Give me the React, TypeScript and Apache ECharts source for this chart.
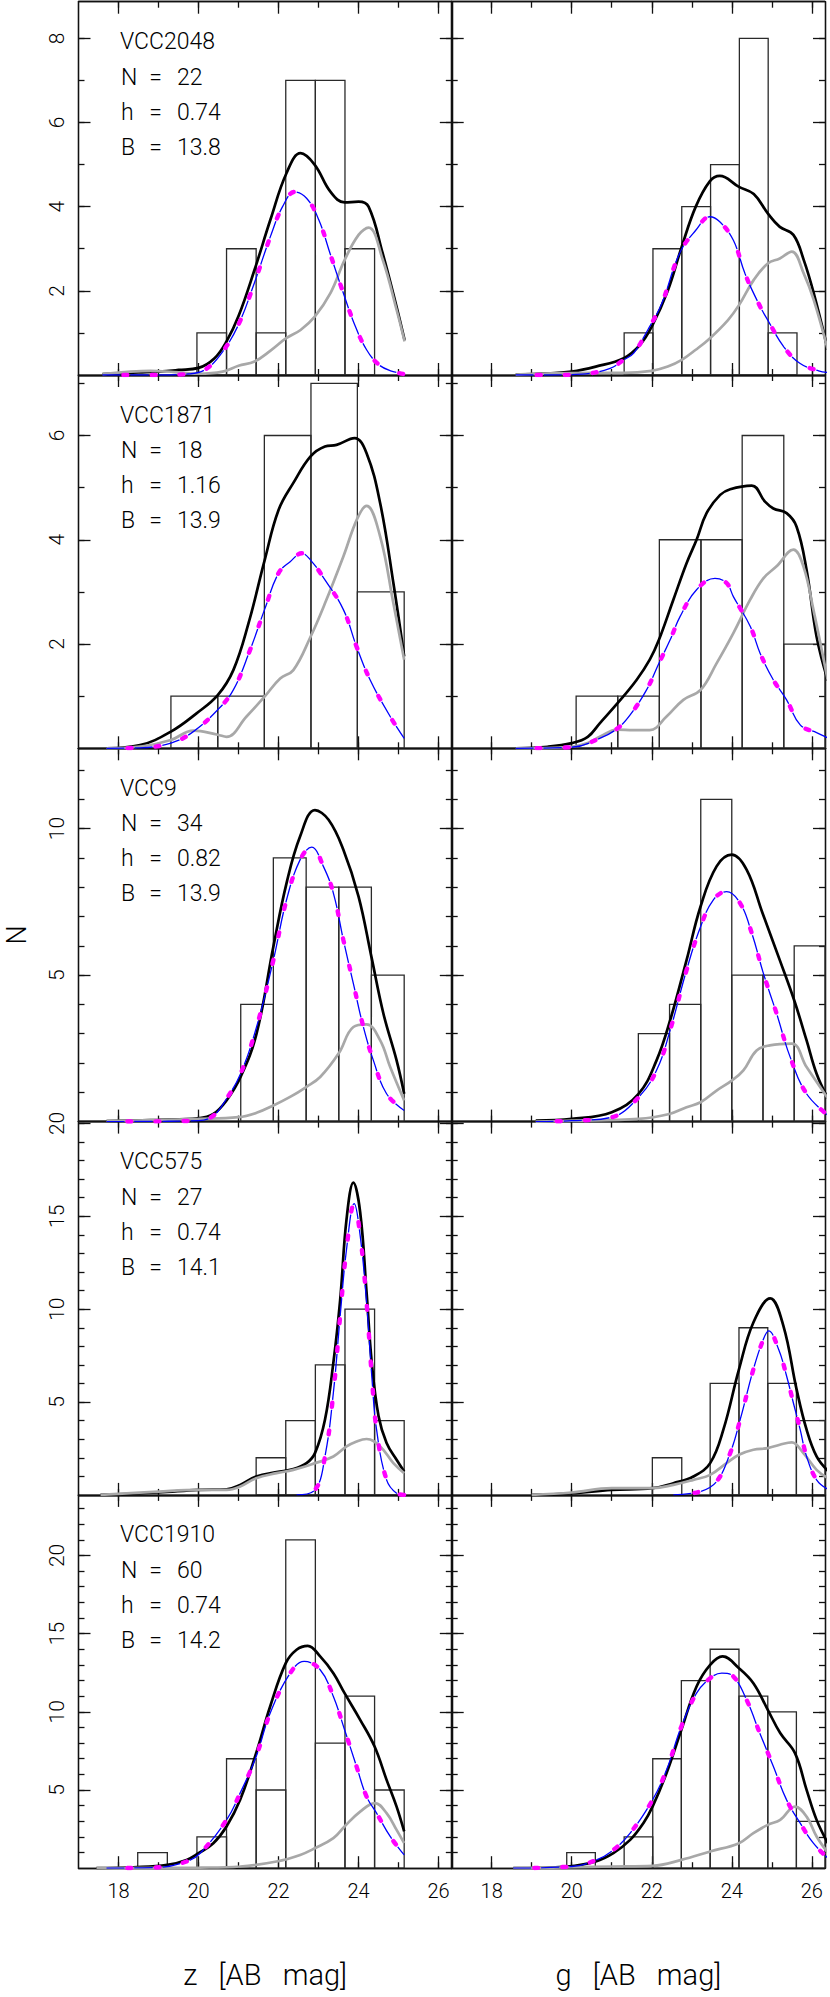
import React, { useEffect, useRef } from 'react';
import * as echarts from 'echarts';

// ---------- text / axes ----------
const galaxyNames = ['VCC2048', 'VCC1871', 'VCC9', 'VCC575', 'VCC1910'];
const galaxyN = ['22', '18', '34', '27', '60'];
const galaxyH = ['0.74', '1.16', '0.82', '0.74', '0.74'];
const galaxyB = ['13.8', '13.9', '13.9', '14.1', '14.2'];
const xTitles = ['z\u00a0\u00a0\u00a0[AB\u00a0\u00a0\u00a0mag]', 'g\u00a0\u00a0\u00a0[AB\u00a0\u00a0\u00a0mag]'];
const yTitle = 'N';
const xMajorTicks = [18, 20, 22, 24, 26];
const xMinorTicks = [18, 19, 20, 21, 22, 23, 24, 25, 26];
const yMaxByRow = [8.87, 7.16, 12.74, 20.1, 23.87];
const yMajorByRow = [[2, 4, 6, 8], [2, 4, 6], [5, 10], [5, 10, 15, 20], [5, 10, 15, 20]];
const yMinorByRow = [
  [1, 2, 3, 4, 5, 6, 7, 8],
  [1, 2, 3, 4, 5, 6, 7],
  [1, 2, 3, 4, 5, 6, 7, 8, 9, 10, 11, 12],
  [1, 2, 3, 4, 5, 6, 7, 8, 9, 10, 11, 12, 13, 14, 15, 16, 17, 18, 19, 20],
  [1, 2, 3, 4, 5, 6, 7, 8, 9, 10, 11, 12, 13, 14, 15, 16, 17, 18, 19, 20, 21, 22, 23],
];

// ---------- histograms (bin edges, counts) ----------
const z2048Edges = [19.96, 20.7, 21.44, 22.18, 22.92, 23.66, 24.4];
const z2048Counts = [1, 3, 1, 7, 7, 3];
const g2048Edges = [21.31, 22.03, 22.75, 23.47, 24.19, 24.91, 25.63];
const g2048Counts = [1, 3, 4, 5, 8, 1];
const z1871Edges = [19.31, 20.48, 21.645, 22.81, 23.97, 25.14];
const z1871Counts = [1, 1, 6, 7, 3];
const g1871Edges = [20.11, 21.15, 22.19, 23.23, 24.26, 25.3, 26.33];
const g1871Counts = [1, 1, 4, 4, 6, 2];
const z9Edges = [21.055, 21.87, 22.69, 23.505, 24.32, 25.14];
const z9Counts = [4, 9, 8, 8, 5];
const g9Edges = [21.665, 22.445, 23.225, 24.0, 24.78, 25.56, 26.33];
const g9Counts = [3, 4, 11, 5, 5, 6];
const z575Edges = [21.44, 22.18, 22.92, 23.66, 24.4, 25.14];
const z575Counts = [2, 4, 7, 10, 4];
const g575Edges = [22.015, 22.75, 23.46, 24.18, 24.9, 25.615, 26.33];
const g575Counts = [2, 0, 6, 9, 6, 4];
const z1910Edges = [18.48, 19.22, 19.96, 20.7, 21.44, 22.18, 22.92, 23.66, 24.4, 25.14];
const z1910Counts = [1, 0, 2, 7, 5, 21, 8, 11, 5];
const g1910Edges = [19.875, 20.59, 21.31, 22.025, 22.74, 23.46, 24.18, 24.9, 25.615, 26.33];
const g1910Counts = [1, 0, 2, 7, 12, 14, 11, 10, 3];

// ---------- curves: [mag, N] ----------
const z2048Total = [[17.6,0.02],[18.5,0.06],[19.0,0.08],[19.5,0.12],[20.0,0.17],[20.4,0.4],[20.7,0.8],[21.0,1.4],[21.4,2.5],[21.8,3.7],[22.2,4.8],[22.55,5.27],[22.9,5.0],[23.3,4.35],[23.65,4.1],[24.0,4.12],[24.25,4.0],[24.6,2.9],[24.95,1.62],[25.15,0.83]];
const z2048Gray = [[17.6,0.02],[18.3,0.08],[18.8,0.1],[19.4,0.07],[20.0,0.03],[20.6,0.08],[21.0,0.22],[21.4,0.32],[21.8,0.58],[22.2,0.88],[22.55,1.07],[22.9,1.38],[23.3,1.95],[23.65,2.73],[24.0,3.33],[24.25,3.5],[24.6,2.75],[24.95,1.55],[25.15,0.8]];
const z2048Fit = [[17.6,0],[19.0,0],[19.8,0.03],[20.2,0.15],[20.6,0.55],[21.0,1.2],[21.4,2.2],[21.8,3.3],[22.1,4.0],[22.4,4.35],[22.7,4.2],[23.0,3.7],[23.3,2.85],[23.6,2.0],[23.9,1.2],[24.2,0.6],[24.5,0.25],[24.8,0.1],[25.15,0.02]];

const g2048Total = [[18.6,0.01],[19.4,0.04],[20.0,0.08],[20.6,0.2],[21.3,0.4],[21.7,0.71],[22.0,1.15],[22.4,2.0],[22.75,3.05],[23.1,4.0],[23.45,4.6],[23.7,4.73],[24.18,4.47],[24.55,4.3],[24.9,3.84],[25.2,3.52],[25.54,3.33],[25.8,2.73],[26.05,1.94],[26.4,0.6]];
const g2048Gray = [[18.6,0.01],[19.5,0.04],[20.5,0.05],[21.3,0.05],[22.0,0.1],[22.4,0.2],[22.75,0.36],[23.1,0.6],[23.45,0.87],[23.9,1.3],[24.18,1.66],[24.55,2.26],[24.9,2.65],[25.2,2.77],[25.5,2.93],[25.8,2.41],[26.05,1.78],[26.4,0.6]];
const g2048Fit = [[18.6,0],[19.5,0],[20.25,0.02],[20.96,0.16],[21.3,0.36],[21.55,0.52],[21.9,1.07],[22.25,1.7],[22.7,2.9],[23.1,3.44],[23.45,3.76],[23.7,3.64],[24.04,3.2],[24.33,2.41],[24.67,1.7],[24.92,1.27],[25.3,0.67],[25.7,0.28],[26.17,0.1],[26.4,0.06]];

const z1871Total = [[17.7,0],[18.54,0.06],[19.31,0.32],[19.95,0.67],[20.48,1.02],[20.87,1.5],[21.25,2.4],[21.65,3.6],[22.0,4.57],[22.37,5.09],[22.8,5.6],[23.16,5.79],[23.45,5.82],[23.9,5.95],[24.2,5.66],[24.54,4.7],[24.87,3.17],[25.14,1.76]];
const z1871Gray = [[17.7,0],[18.6,0.04],[19.31,0.16],[19.87,0.34],[20.48,0.26],[20.7,0.22],[21.2,0.61],[21.65,0.99],[22.04,1.34],[22.37,1.5],[22.8,2.14],[23.16,2.78],[23.62,3.68],[23.97,4.41],[24.2,4.65],[24.54,4.06],[24.87,2.78],[25.14,1.7]];
const z1871Fit = [[17.7,0],[18.54,0.01],[19.31,0.1],[19.87,0.32],[20.48,0.74],[20.87,1.12],[21.29,1.89],[21.65,2.66],[22.0,3.36],[22.29,3.58],[22.58,3.74],[22.8,3.61],[23.16,3.23],[23.62,2.66],[23.95,1.95],[24.29,1.31],[24.79,0.61],[25.14,0.19]];

const g1871Total = [[18.6,0],[19.4,0.03],[20.0,0.1],[20.4,0.22],[20.7,0.48],[21.14,0.86],[21.62,1.31],[21.95,1.7],[22.18,2.08],[22.54,2.85],[22.87,3.55],[23.12,4.0],[23.37,4.51],[23.71,4.86],[23.96,4.97],[24.5,5.04],[24.83,4.73],[25.04,4.6],[25.37,4.51],[25.62,4.25],[25.87,3.42],[26.12,2.14],[26.4,1.3]];
const g1871Gray = [[18.6,0],[20.0,0.03],[20.4,0.1],[20.7,0.22],[21.14,0.36],[21.54,0.35],[21.95,0.35],[22.37,0.61],[22.79,0.93],[23.22,1.12],[23.62,1.63],[24.04,2.21],[24.46,2.85],[24.79,3.26],[25.12,3.49],[25.54,3.81],[25.79,3.49],[26.04,2.66],[26.4,1.3]];
const g1871Fit = [[18.6,0],[20.0,0.02],[20.7,0.19],[21.14,0.38],[21.46,0.64],[21.87,1.12],[22.18,1.63],[22.46,2.08],[22.71,2.53],[23.12,3.04],[23.58,3.26],[23.87,3.17],[24.04,2.91],[24.46,2.34],[24.71,1.82],[25.04,1.31],[25.37,0.93],[25.71,0.45],[26.12,0.3],[26.4,0.2]];

const z9Total = [[17.7,0.02],[19.0,0.06],[20.0,0.11],[20.37,0.26],[20.7,0.72],[21.05,1.52],[21.45,3.0],[21.87,5.97],[22.2,8.14],[22.54,9.74],[22.91,10.63],[23.25,10.3],[23.62,9.28],[24.0,7.68],[24.32,5.63],[24.62,3.69],[24.95,2.09],[25.14,0.95]];
const z9Gray = [[17.7,0.02],[20.0,0.09],[21.0,0.15],[21.45,0.3],[21.87,0.55],[22.3,0.85],[22.69,1.18],[23.04,1.52],[23.5,2.32],[23.87,3.23],[24.2,3.32],[24.54,2.77],[24.79,1.86],[25.14,0.72]];
const z9Fit = [[17.7,0],[20.0,0.03],[20.37,0.2],[20.7,0.78],[21.05,1.63],[21.45,3.23],[21.87,5.51],[22.2,7.57],[22.54,8.94],[22.83,9.37],[23.12,8.71],[23.37,7.8],[23.62,6.2],[23.87,4.71],[24.12,3.23],[24.37,2.09],[24.7,0.95],[25.14,0.38]];

const g9Total = [[19.1,0.03],[20.0,0.09],[21.0,0.32],[21.67,0.95],[22.12,2.09],[22.46,3.46],[22.87,5.51],[23.22,7.34],[23.62,8.71],[24.0,9.11],[24.37,8.6],[24.77,7.11],[25.2,5.51],[25.56,4.14],[25.87,2.77],[26.12,1.63],[26.4,0.8]];
const g9Gray = [[19.1,0],[20.0,0.03],[21.67,0.09],[22.44,0.26],[22.87,0.49],[23.22,0.66],[23.62,1.06],[24.0,1.4],[24.29,1.75],[24.62,2.43],[24.95,2.6],[25.5,2.66],[25.87,1.86],[26.4,0.8]];
const g9Fit = [[19.1,0],[20.0,0.03],[21.0,0.15],[21.67,0.83],[22.12,1.75],[22.46,3.12],[22.87,5.17],[23.22,6.65],[23.54,7.57],[23.87,7.85],[24.21,7.45],[24.5,6.43],[24.79,5.06],[25.12,3.69],[25.46,2.2],[25.87,0.95],[26.4,0.22]];

const z575Total = [[17.55,0],[19.0,0.13],[20.0,0.27],[20.7,0.3],[21.04,0.54],[21.44,0.99],[21.95,1.23],[22.37,1.39],[22.7,1.71],[22.91,2.25],[23.16,4.05],[23.37,7.12],[23.54,10.5],[23.7,14.86],[23.87,16.81],[24.04,15.22],[24.2,10.9],[24.33,7.12],[24.5,4.23],[24.7,2.79],[24.95,1.89],[25.14,1.26]];
const z575Gray = [[17.55,0],[19.0,0.18],[20.0,0.27],[20.7,0.27],[21.04,0.45],[21.44,0.9],[21.95,1.17],[22.37,1.35],[22.91,1.71],[23.37,2.07],[23.7,2.61],[23.95,2.88],[24.2,3.01],[24.54,2.61],[24.87,1.71],[25.14,1.17]];
const z575Fit = [[22.45,0],[22.91,0.27],[23.16,2.07],[23.37,5.5],[23.54,9.64],[23.7,13.24],[23.89,15.68],[24.04,13.96],[24.2,10.36],[24.33,6.4],[24.45,3.51],[24.7,0.81],[24.95,0.09],[25.14,0]];

const g575Total = [[19.0,0],[20.0,0.09],[21.0,0.27],[22.02,0.36],[22.54,0.63],[23.04,0.99],[23.46,1.71],[23.79,3.51],[24.18,6.76],[24.54,9.28],[24.96,10.58],[25.29,9.1],[25.62,5.68],[25.87,3.51],[26.12,2.07],[26.4,1.3]];
const g575Gray = [[19.0,0],[20.0,0.13],[21.0,0.36],[22.02,0.36],[22.54,0.54],[23.04,0.81],[23.46,1.08],[23.87,1.71],[24.18,2.16],[24.54,2.43],[24.9,2.52],[25.2,2.7],[25.5,2.83],[25.79,2.25],[26.12,1.35],[26.4,0.9]];
const g575Fit = [[22.54,0],[23.21,0.18],[23.62,0.72],[23.96,2.25],[24.21,4.05],[24.54,6.76],[24.79,8.38],[24.92,8.83],[25.17,7.84],[25.37,6.4],[25.54,4.95],[25.71,3.51],[25.87,2.07],[26.12,0.81],[26.4,0.3]];

const z1910Total = [[17.45,0],[18.37,0.06],[19.22,0.21],[19.7,0.53],[20.0,0.96],[20.37,1.6],[20.7,2.67],[21.04,4.37],[21.44,7.36],[21.79,10.34],[22.18,13.11],[22.45,13.97],[22.73,14.22],[23.04,13.54],[23.37,12.47],[23.65,11.19],[24.04,9.49],[24.4,7.78],[24.7,5.65],[24.95,3.94],[25.14,2.35]];
const z1910Gray = [[17.45,0],[20.04,0.04],[21.04,0.11],[21.95,0.43],[22.54,0.85],[22.91,1.28],[23.37,1.92],[23.65,2.67],[24.04,3.62],[24.41,4.16],[24.7,3.52],[24.95,2.45],[25.14,1.6]];
const z1910Fit = [[17.7,0],[19.04,0.06],[19.7,0.43],[20.04,0.96],[20.7,3.09],[21.04,4.8],[21.44,7.14],[21.79,9.91],[22.29,12.47],[22.64,13.22],[23.04,12.69],[23.37,10.98],[23.65,8.85],[23.95,6.5],[24.2,4.58],[24.45,3.52],[24.79,2.03],[25.14,0.85]];

const g1910Total = [[18.54,0],[19.88,0.11],[20.6,0.43],[21.04,0.96],[21.46,1.81],[21.79,2.88],[22.02,3.94],[22.37,6.08],[22.74,8.85],[23.12,11.62],[23.46,13.0],[23.77,13.54],[24.18,12.79],[24.54,11.83],[24.9,10.13],[25.21,8.64],[25.58,7.36],[25.87,5.01],[26.12,3.09],[26.4,1.6]];
const g1910Gray = [[18.54,0],[20.0,0.06],[21.0,0.11],[22.02,0.15],[22.74,0.53],[23.46,1.07],[24.18,1.6],[24.54,2.24],[24.9,2.77],[25.21,3.09],[25.58,3.94],[25.87,3.3],[26.12,2.03],[26.4,1.0]];
const g1910Fit = [[18.54,0],[20.0,0.11],[20.62,0.53],[21.04,1.17],[21.46,2.24],[22.02,4.37],[22.37,6.29],[22.74,9.06],[23.12,11.19],[23.46,12.15],[23.75,12.47],[24.04,12.26],[24.37,10.77],[24.7,8.64],[25.04,6.5],[25.37,4.37],[25.71,2.88],[26.04,1.6],[26.4,0.65]];

const panels = [
  { edges: z2048Edges, counts: z2048Counts, total: z2048Total, gray: z2048Gray, fit: z2048Fit },
  { edges: g2048Edges, counts: g2048Counts, total: g2048Total, gray: g2048Gray, fit: g2048Fit },
  { edges: z1871Edges, counts: z1871Counts, total: z1871Total, gray: z1871Gray, fit: z1871Fit },
  { edges: g1871Edges, counts: g1871Counts, total: g1871Total, gray: g1871Gray, fit: g1871Fit },
  { edges: z9Edges, counts: z9Counts, total: z9Total, gray: z9Gray, fit: z9Fit },
  { edges: g9Edges, counts: g9Counts, total: g9Total, gray: g9Gray, fit: g9Fit },
  { edges: z575Edges, counts: z575Counts, total: z575Total, gray: z575Gray, fit: z575Fit },
  { edges: g575Edges, counts: g575Counts, total: g575Total, gray: g575Gray, fit: g575Fit },
  { edges: z1910Edges, counts: z1910Counts, total: z1910Total, gray: z1910Gray, fit: z1910Fit },
  { edges: g1910Edges, counts: g1910Counts, total: g1910Total, gray: g1910Gray, fit: g1910Fit },
];

// ---------- layout ----------
const X_MIN = 17;
const X_MAX = 26.33;
const COL_LEFT = [78.5, 451.7];
const PANEL_W = 373.3;
const ROW_TOP = [1.7, 375.0, 748.3, 1121.6, 1494.9];
const PANEL_H = 373.3;
const FONT = 'Roboto, "DejaVu Sans", sans-serif';
const FRAME = { color: '#111', width: 1.3 };

function histRender(params: any, api: any) {
  const x0 = api.value(0);
  const x1 = api.value(1);
  const n = api.value(2);
  if (!n) return null;
  const p0 = api.coord([x0, n]);
  const p1 = api.coord([x1, 0]);
  return {
    type: 'rect',
    shape: { x: p0[0], y: p0[1], width: p1[0] - p0[0], height: p1[1] - p0[1] },
    style: { fill: 'none', stroke: '#2a2a2a', lineWidth: 1.3 },
  };
}

function buildOption() {
  const grid: any[] = [];
  const xAxis: any[] = [];
  const yAxis: any[] = [];
  const series: any[] = [];
  const graphic: any[] = [];

  panels.forEach((p, k) => {
    const row = Math.floor(k / 2);
    const col = k % 2;
    grid.push({ left: COL_LEFT[col], top: ROW_TOP[row], width: PANEL_W, height: PANEL_H });
    const gi = grid.length - 1;
    const xi = xAxis.length;
    const yi = yAxis.length;
    const xBase = {
      type: 'value', gridIndex: gi, min: X_MIN, max: X_MAX,
      splitLine: { show: false },
      axisLine: { show: true, onZero: false, lineStyle: FRAME },
    };
    const showX = row === 4;
    xAxis.push({ ...xBase, position: 'bottom',
      axisTick: { show: true, inside: true, length: 12, customValues: xMajorTicks, lineStyle: FRAME },
      axisLabel: { show: showX, customValues: xMajorTicks, margin: 13, fontSize: 20, color: '#000', fontFamily: FONT, fontWeight: 300 } });
    xAxis.push({ ...xBase, position: 'bottom',
      axisTick: { show: true, inside: true, length: 6, customValues: xMinorTicks, lineStyle: FRAME },
      axisLabel: { show: false } });
    xAxis.push({ ...xBase, position: 'top',
      axisTick: { show: true, inside: true, length: 12, customValues: xMajorTicks, lineStyle: FRAME },
      axisLabel: { show: false } });
    xAxis.push({ ...xBase, position: 'top',
      axisTick: { show: true, inside: true, length: 6, customValues: xMinorTicks, lineStyle: FRAME },
      axisLabel: { show: false } });

    const yBase = {
      type: 'value', gridIndex: gi, min: 0, max: yMaxByRow[row],
      splitLine: { show: false },
      axisLine: { show: true, onZero: false, lineStyle: FRAME },
    };
    const showY = col === 0;
    yAxis.push({ ...yBase, position: 'left',
      axisTick: { show: true, inside: true, length: 12, customValues: yMajorByRow[row], lineStyle: FRAME },
      axisLabel: { show: showY, customValues: yMajorByRow[row], rotate: 90, margin: 11, fontSize: 21, color: '#000', fontFamily: FONT, fontWeight: 300 } });
    yAxis.push({ ...yBase, position: 'left',
      axisTick: { show: true, inside: true, length: 6, customValues: yMinorByRow[row], lineStyle: FRAME },
      axisLabel: { show: false } });
    yAxis.push({ ...yBase, position: 'right',
      axisTick: { show: true, inside: true, length: 12, customValues: yMajorByRow[row], lineStyle: FRAME },
      axisLabel: { show: false } });
    yAxis.push({ ...yBase, position: 'right',
      axisTick: { show: true, inside: true, length: 6, customValues: yMinorByRow[row], lineStyle: FRAME },
      axisLabel: { show: false } });

    series.push({
      type: 'custom', xAxisIndex: xi, yAxisIndex: yi, clip: true, silent: true,
      data: p.counts.map((c, i) => [p.edges[i], p.edges[i + 1], c]),
      encode: { x: [0, 1], y: 2 },
      renderItem: histRender,
    });
    const lineBase = { type: 'line', xAxisIndex: xi, yAxisIndex: yi, showSymbol: false, smooth: 0.4, clip: true, silent: true };
    series.push({ ...lineBase, data: p.total, lineStyle: { color: '#000', width: 2.7 } });
    series.push({ ...lineBase, data: p.gray, lineStyle: { color: '#a8a8a8', width: 2.7 } });
    series.push({ ...lineBase, data: p.fit, lineStyle: { color: '#0000ff', width: 1.3, type: [18, 10] } });
    series.push({ ...lineBase, data: p.fit, lineStyle: { color: '#ff00ff', width: 4.4, type: [4, 24], dashOffset: 7, cap: 'round' } });

    if (col === 0) {
      const top = ROW_TOP[row];
      const ts = { fontSize: 23, fontFamily: FONT, fontWeight: 300, fill: '#000', verticalAlign: 'middle' };
      graphic.push({ type: 'text', x: 120, y: top + 40, style: { ...ts, text: galaxyNames[row], align: 'left' } });
      const lines = [['N', galaxyN[row]], ['h', galaxyH[row]], ['B', galaxyB[row]]];
      lines.forEach((ln, j) => {
        const yy = top + 75.6 + j * 35;
        graphic.push({ type: 'text', x: 121, y: yy, style: { ...ts, text: ln[0], align: 'left' } });
        graphic.push({ type: 'text', x: 155.5, y: yy, style: { ...ts, text: '=', align: 'center' } });
        graphic.push({ type: 'text', x: 177, y: yy, style: { ...ts, text: ln[1], align: 'left' } });
      });
    }
  });

  graphic.push({ type: 'text', x: 17, y: 935, rotation: Math.PI / 2,
    style: { text: yTitle, fontSize: 27, fontFamily: FONT, fontWeight: 300, fill: '#000', align: 'center', verticalAlign: 'middle' } });
  xTitles.forEach((t, c) => {
    graphic.push({ type: 'text', x: COL_LEFT[c] + PANEL_W / 2, y: 1975,
      style: { text: t, fontSize: 29, fontFamily: FONT, fontWeight: 300, fill: '#000', align: 'center', verticalAlign: 'middle' } });
  });

  return { animation: false, backgroundColor: '#fff', grid, xAxis, yAxis, series, graphic };
}

export default function App() {
  const ref = useRef<HTMLDivElement>(null);
  useEffect(() => {
    if (!ref.current) return;
    const chart = echarts.init(ref.current, null, { renderer: 'svg' });
    chart.setOption(buildOption() as any);
    return () => chart.dispose();
  }, []);
  return <div ref={ref} style={{ position: 'absolute', left: 0, top: 0, width: 830, height: 1997 }} />;
}
